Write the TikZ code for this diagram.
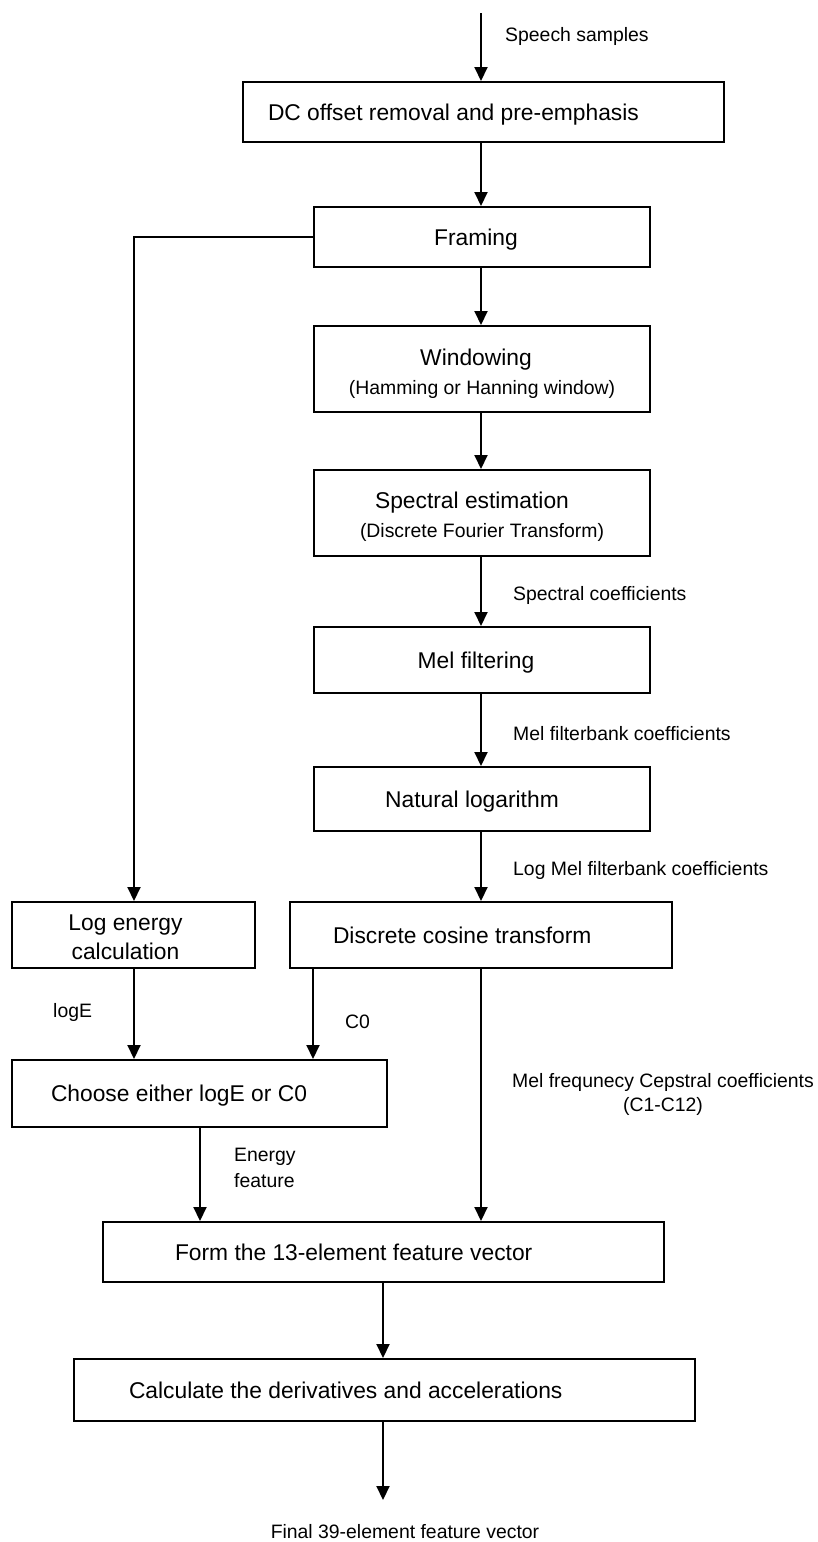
\documentclass[tikz,border=0pt]{standalone}
\usepackage{fontspec}
\setmainfont{Liberation Sans}
\usetikzlibrary{arrows.meta}
\begin{document}
\begin{tikzpicture}[x=1pt,y=-1pt,
  box/.style={draw, line width=2pt, inner ysep=0pt, font=\fontsize{22.8}{29}\selectfont,
    execute at begin node={\spaceskip=0pt\xspaceskip=0pt\relax}},
  onel/.style={box, text depth=0pt},
  lbl/.style={inner sep=0pt, font=\fontsize{19.4}{25}\selectfont,
    execute at begin node={\spaceskip=0pt\xspaceskip=0pt\relax}},
  arr/.style={line width=2pt, -{Triangle[width=13pt,length=14pt]}}]
\useasboundingbox (0,0) rectangle (817,1542);
\newcommand{\sm}{\fontsize{19.4}{29}\selectfont\spaceskip=0pt\xspaceskip=0pt\relax}

% boxes
\node[onel, minimum width=481pt, minimum height=60pt, inner xsep=25pt, text width=431pt, align=left] (dc) at (483.5,112) {DC offset removal and pre-emphasis};
\node[onel, minimum width=336pt, minimum height=60pt, inner xsep=0pt, text width=336pt, align=center] (fr) at (482,237) {\hspace*{-12pt}\mbox{Framing}};
\node[box, minimum width=336pt, minimum height=86pt, inner xsep=0pt, text width=336pt, align=center] (wi) at (482,369) {\rule{0pt}{25.5pt}\hspace*{-12pt}\mbox{Windowing}\\\mbox{\sm (Hamming or Hanning window)}};
\node[box, minimum width=336pt, minimum height=86pt, inner xsep=0pt, text width=336pt, align=center] (sp) at (482,513) {\rule{0pt}{24.5pt}\hspace*{-20pt}\mbox{Spectral estimation}\\\mbox{\sm (Discrete Fourier Transform)}};
\node[onel, minimum width=336pt, minimum height=66pt, inner xsep=0pt, text width=336pt, align=center] (mf) at (482,660) {\hspace*{-12pt}\mbox{Mel filtering}};
\node[onel, minimum width=336pt, minimum height=64pt, inner xsep=0pt, text width=336pt, align=center] (nl) at (482,799) {\hspace*{-20pt}\mbox{Natural logarithm}};
\node[box, minimum width=243pt, minimum height=66pt, inner xsep=0pt, text width=243pt, align=center] (le) at (133.5,935) {\rule{0pt}{20.5pt}\hspace*{-16pt}\mbox{Log energy}\\\hspace*{-16pt}\mbox{calculation}};
\node[onel, minimum width=382pt, minimum height=66pt, inner xsep=43pt, text width=296pt, align=left] (dct) at (481,935) {Discrete cosine transform};
\node[onel, minimum width=375pt, minimum height=67pt, inner xsep=39pt, text width=297pt, align=left] (ch) at (199.5,1093.5) {Choose either logE or C0};
\node[onel, minimum width=561pt, minimum height=60pt, inner xsep=72pt, text width=417pt, align=left] (fm) at (383.5,1252) {Form the 13-element feature vector};
\node[onel, minimum width=621pt, minimum height=62pt, inner xsep=55pt, text width=511pt, align=left] (ca) at (384.5,1390) {Calculate the derivatives and accelerations};

% helper coordinates
\coordinate (mx) at (481,0);
\coordinate (lx) at (134,0);
\coordinate (cx) at (313,0);
\coordinate (ex) at (200,0);
\coordinate (ox) at (383,0);
\coordinate (in) at (481,13);
\coordinate (out) at (383,1500);

% connectors
\draw[arr] (in) -- (dc.north -| in);
\draw[arr] (dc.south -| mx) -- (fr.north -| mx);
\draw[arr] (fr.south -| mx) -- (wi.north -| mx);
\draw[arr] (wi.south -| mx) -- (sp.north -| mx);
\draw[arr] (sp.south -| mx) -- (mf.north -| mx);
\draw[arr] (mf.south -| mx) -- (nl.north -| mx);
\draw[arr] (nl.south -| mx) -- (dct.north -| mx);
\draw[arr] (fr.west) -| (le.north -| lx);
\draw[arr] (le.south -| lx) -- (ch.north -| lx);
\draw[arr] (dct.south -| cx) -- (ch.north -| cx);
\draw[arr] (dct.south -| mx) -- (fm.north -| mx);
\draw[arr] (ch.south -| ex) -- (fm.north -| ex);
\draw[arr] (fm.south -| ox) -- (ca.north -| ox);
\draw[arr] (ca.south -| ox) -- (out);

% labels
\node[lbl, anchor=west] (l1) at (505,36) {Speech samples};
\node[lbl, anchor=west] (l2) at (513,595) {Spectral coefficients};
\node[lbl, anchor=west] (l3) at (513,734) {Mel filterbank coefficients};
\node[lbl, anchor=west] (l4) at (513,870) {Log Mel filterbank coefficients};
\node[lbl, anchor=west] (l5) at (53,1012) {logE};
\node[lbl, anchor=west] (l6) at (345,1022) {C0};
\node[lbl, align=center, font=\fontsize{19.4}{24}\selectfont] (l7) at (663,1094) {\mbox{Mel frequnecy Cepstral coefficients}\\\mbox{(C1-C12)}};
\node[lbl, anchor=west, align=left, font=\fontsize{19.4}{26}\selectfont] (l8) at (234,1168) {Energy\\feature};
\node[lbl] (l9) at (405,1532) {Final 39-element feature vector};
\end{tikzpicture}
\end{document}
